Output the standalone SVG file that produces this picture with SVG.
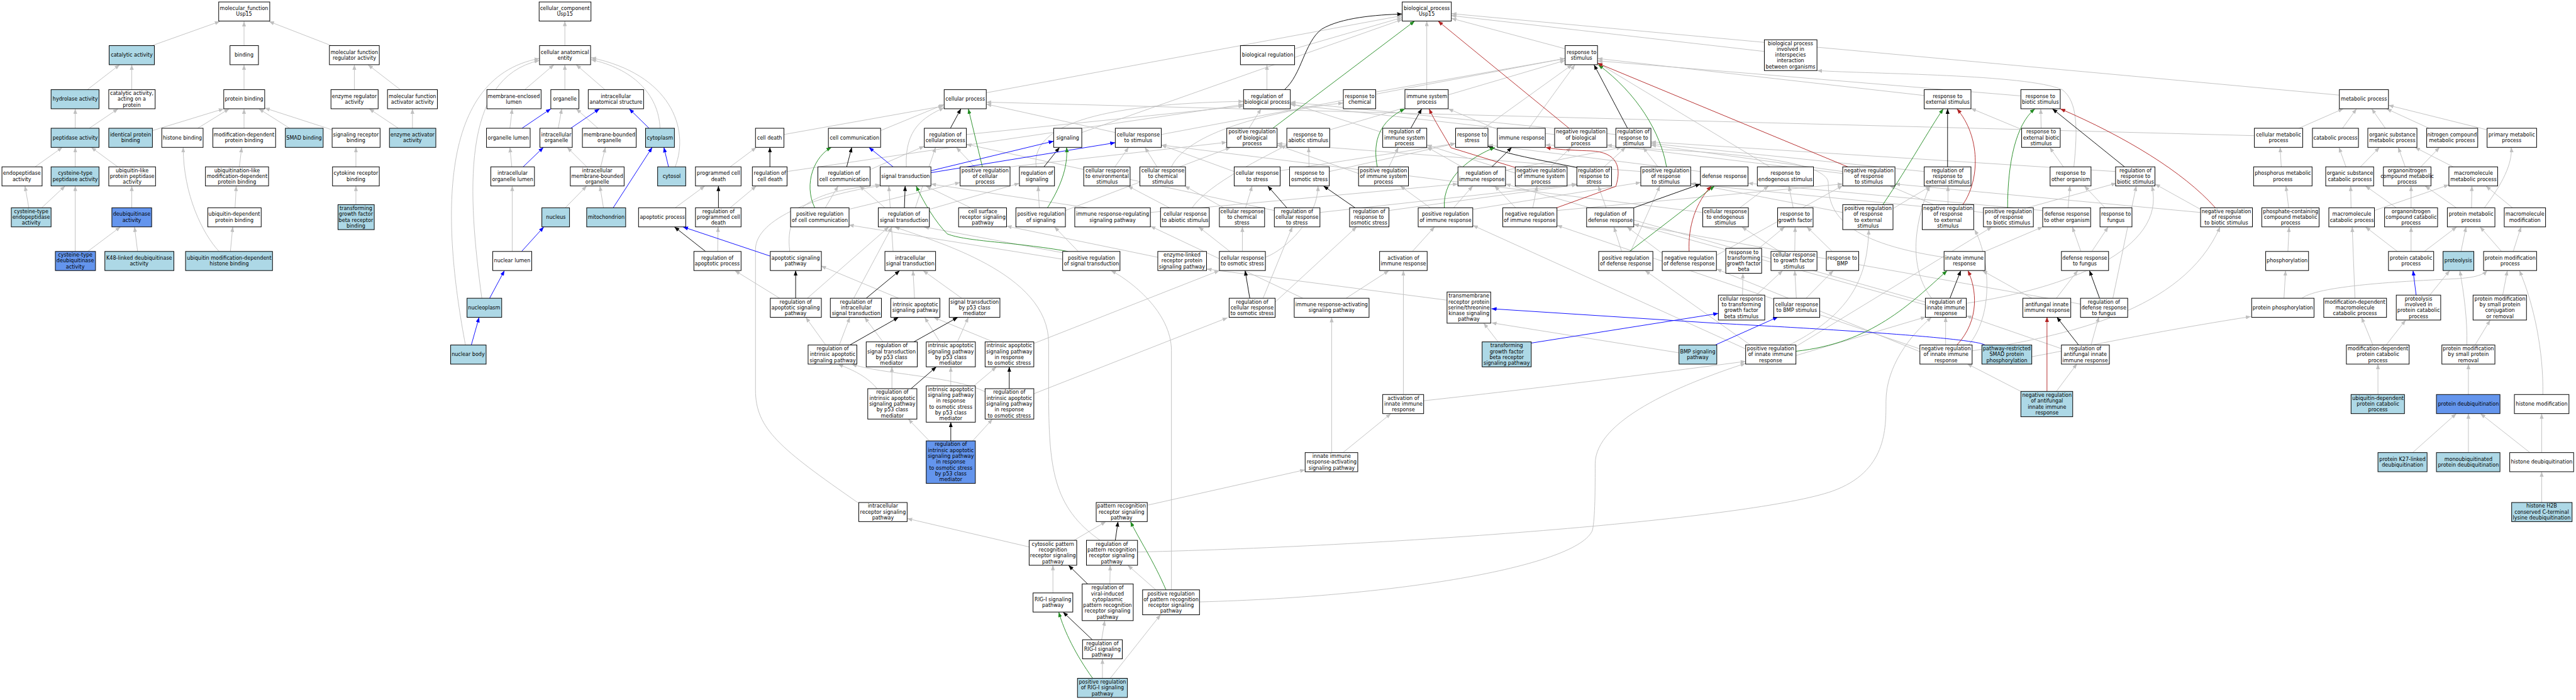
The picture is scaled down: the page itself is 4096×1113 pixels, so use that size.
<svg xmlns="http://www.w3.org/2000/svg" width="4096" height="1113" viewBox="0 0 4096 1113">
<defs>
<marker id="ag" markerUnits="userSpaceOnUse" markerWidth="14" markerHeight="10" refX="13" refY="5" orient="auto"><path d="M0,0L13,5L0,10z" fill="#c0c0c0"/></marker>
<marker id="ak" markerUnits="userSpaceOnUse" markerWidth="14" markerHeight="10" refX="13" refY="5" orient="auto"><path d="M0,0L13,5L0,10z" fill="#000"/></marker>
<marker id="ab" markerUnits="userSpaceOnUse" markerWidth="14" markerHeight="10" refX="13" refY="5" orient="auto"><path d="M0,0L13,5L0,10z" fill="#0000ff"/></marker>
<marker id="agr" markerUnits="userSpaceOnUse" markerWidth="14" markerHeight="10" refX="13" refY="5" orient="auto"><path d="M0,0L13,5L0,10z" fill="#228b22"/></marker>
<marker id="ar" markerUnits="userSpaceOnUse" markerWidth="14" markerHeight="10" refX="13" refY="5" orient="auto"><path d="M0,0L13,5L0,10z" fill="#b22222"/></marker>
</defs>
<style>
#nodes rect{fill:#fff;stroke:#000;stroke-width:1.6}
#nodes rect.lb{fill:#add8e6}
#nodes rect.cb{fill:#6495ed}
#nodes text{font-family:"DejaVu Sans","Liberation Sans",sans-serif;font-size:13px;text-anchor:middle;fill:#000}
#edges path{fill:none;stroke-width:1.5}
#edges .g{stroke:#c0c0c0;marker-end:url(#ag)}
#edges .k{stroke:#000;marker-end:url(#ak)}
#edges .b{stroke:#0000ff;marker-end:url(#ab)}
#edges .gr{stroke:#228b22;marker-end:url(#agr)}
#edges .r{stroke:#b22222;marker-end:url(#ar)}
</style>
<rect x="0" y="0" width="4096" height="1113" fill="#fff"/>
<g transform="scale(0.61985)">
<g id="edges">
<path class="g" d="M390 117L564 55"/>
<path class="g" d="M626 117L626 55"/>
<path class="g" d="M850 117L690 55"/>
<path class="g" d="M224 230L307 166"/>
<path class="g" d="M338 230L338 166"/>
<path class="g" d="M626 230L626 166"/>
<path class="g" d="M909 230L909 166"/>
<path class="g" d="M1027 230L944 166"/>
<path class="g" d="M193 329L193 279"/>
<path class="g" d="M229 329L303 279"/>
<path class="g" d="M391 335L574 279"/>
<path class="g" d="M507 329L588 279"/>
<path class="g" d="M626 329L626 279"/>
<path class="g" d="M743 329L664 279"/>
<path class="g" d="M852 333L679 277"/>
<path class="g" d="M1022 329L947 279"/>
<path class="g" d="M1058 329L1058 279"/>
<path class="g" d="M90 428L160 378"/>
<path class="g" d="M193 428L193 378"/>
<path class="g" d="M302 428L234 378"/>
<path class="g" d="M614 428L620 378"/>
<path class="g" d="M913 428L913 378"/>
<path class="g" d="M74 533L64 477"/>
<path class="g" d="M107 533L167 477"/>
<path class="g" d="M338 533L338 477"/>
<path class="g" d="M603 533L606 477"/>
<path class="g" d="M913 525L913 477"/>
<path class="g" d="M193 645L193 477"/>
<path class="g" d="M225 645L309 582"/>
<path class="g" d="M353 645L345 582"/>
<path class="g" d="M562 645C520 600 470 500 470 378"/>
<path class="g" d="M591 645L597 582"/>
<path class="g" d="M1449 117L1449 54"/>
<path class="g" d="M1346 230L1421 166"/>
<path class="g" d="M1449 230L1449 166"/>
<path class="g" d="M1552 230L1478 166"/>
<path class="g" d="M1693 329C1690 240 1620 175 1516 153"/>
<path class="g" d="M1732 428C1770 330 1720 190 1516 148"/>
<path class="g" d="M1236 765C1200 500 1180 200 1384 155"/>
<path class="g" d="M1194 885C1140 600 1110 200 1384 150"/>
<path class="g" d="M1308 329L1314 279"/>
<path class="g" d="M1432 329L1441 279"/>
<path class="g" d="M1534 329L1478 279"/>
<path class="g" d="M1313 428L1308 378"/>
<path class="g" d="M1505 428L1455 378"/>
<path class="g" d="M1541 428L1553 378"/>
<path class="g" d="M1450 533L1505 477"/>
<path class="g" d="M1548 533L1539 477"/>
<path class="g" d="M1314 645L1314 477"/>
<path class="b" d="M1339 329L1413 279"/>
<path class="b" d="M1464 329L1538 279"/>
<path class="b" d="M1665 329L1614 279"/>
<path class="b" d="M1342 428L1394 378"/>
<path class="b" d="M1715 428L1703 378"/>
<path class="b" d="M1573 533L1673 378"/>
<path class="b" d="M1338 645L1395 582"/>
<path class="b" d="M1256 765L1294 694"/>
<path class="b" d="M1209 885L1229 814"/>
<path class="g" d="M2011 345L2420 272"/>
<path class="g" d="M1873 428L1940 378"/>
<path class="g" d="M2019 440L3190 268"/>
<path class="g" d="M1732 533L1808 477"/>
<path class="g" d="M1873 533L1940 477"/>
<path class="g" d="M1841 645L1842 582"/>
<path class="g" d="M2026 645C2010 520 2100 490 2258 474"/>
<path class="g" d="M2000 765L1885 694"/>
<path class="g" d="M2071 765L2280 582"/>
<path class="g" d="M2118 885L2067 814"/>
<path class="g" d="M2153 885L2180 814"/>
<path class="g" d="M2259 335L2422 268"/>
<path class="g" d="M2232 435L2371 375"/>
<path class="g" d="M2117 533L2150 477"/>
<path class="g" d="M2177 537L2463 468"/>
<path class="g" d="M2190 765L2288 582"/>
<path class="g" d="M2530 238L3597 40"/>
<path class="g" d="M3321 125L3597 45"/>
<path class="g" d="M3250 230L3250 166"/>
<path class="g" d="M3204 329L3235 279"/>
<path class="g" d="M3988 345L3310 268"/>
<path class="g" d="M3660 230L3660 54"/>
<path class="g" d="M4015 125L3723 47"/>
<path class="g" d="M4526 132L3723 40"/>
<path class="g" d="M6001 244L3723 35"/>
<path class="g" d="M2479 345L3190 272"/>
<path class="g" d="M2500 428L2453 378"/>
<path class="g" d="M2591 428L3147 365"/>
<path class="g" d="M2775 340L3597 50"/>
<path class="g" d="M2325 428C2320 330 2370 300 2422 276"/>
<path class="g" d="M2861 340L2530 267"/>
<path class="g" d="M2979 345L4015 150"/>
<path class="g" d="M2658 428C2640 300 2900 265 3190 260"/>
<path class="g" d="M2384 537L2615 470"/>
<path class="g" d="M2270 533L2205 477"/>
<path class="g" d="M2348 533L2400 378"/>
<path class="g" d="M2490 533L2375 477"/>
<path class="g" d="M2666 533L2663 477"/>
<path class="g" d="M2733 540L3157 378"/>
<path class="g" d="M2790 533L2388 472"/>
<path class="g" d="M2951 545L3740 472"/>
<path class="g" d="M3000 533L2893 477"/>
<path class="g" d="M3058 533C3100 470 3250 400 3301 372"/>
<path class="g" d="M3195 533L3212 477"/>
<path class="g" d="M3139 533L3039 477"/>
<path class="g" d="M3386 545L4045 472"/>
<path class="g" d="M3269 540L2479 370"/>
<path class="g" d="M2968 428L2937 378"/>
<path class="g" d="M3005 428C3050 330 3300 280 3446 264"/>
<path class="g" d="M2860 428L2895 378"/>
<path class="g" d="M3166 440L2979 372"/>
<path class="g" d="M3284 438L3734 368"/>
<path class="g" d="M2291 645L2280 477"/>
<path class="g" d="M2735 650L2370 582"/>
<path class="g" d="M2766 645L2705 582"/>
<path class="g" d="M2726 665L2177 577"/>
<path class="g" d="M2970 660L2582 580"/>
<path class="g" d="M3155 645L3075 582"/>
<path class="g" d="M3187 645L3187 582"/>
<path class="g" d="M3246 660C3300 640 3380 560 3381 477"/>
<path class="g" d="M3240 765L3315 582"/>
<path class="g" d="M3271 775L3480 582"/>
<path class="g" d="M2346 765L2342 694"/>
<path class="g" d="M2305 765L2106 682"/>
<path class="g" d="M2467 765L2368 694"/>
<path class="g" d="M2265 877L2218 814"/>
<path class="g" d="M2411 877L2372 814"/>
<path class="g" d="M2456 877L2484 814"/>
<path class="g" d="M2548 877L2395 814"/>
<path class="g" d="M2652 881L3128 694"/>
<path class="g" d="M2288 997L2288 941"/>
<path class="g" d="M2250 997C2220 960 2175 945 2150 934"/>
<path class="g" d="M2439 990L2439 941"/>
<path class="g" d="M2498 990L2556 941"/>
<path class="g" d="M2527 1005C2450 965 2260 960 2185 934"/>
<path class="g" d="M2652 1010L3149 815"/>
<path class="g" d="M2384 1131L2330 1075"/>
<path class="g" d="M2495 1131L2546 1075"/>
<path class="g" d="M2203 1291C2000 1150 1938 1100 1938 1000L1938 640C1938 560 2100 500 2260 476"/>
<path class="g" d="M2943 1296L3348 1205"/>
<path class="g" d="M2755 1386L2837 1338"/>
<path class="g" d="M2640 1403L2327 1330"/>
<path class="g" d="M2918 1416C3600 1400 4500 1330 4700 1260C4840 1210 4838 1100 4838 1030C4838 940 4900 860 4955 814"/>
<path class="g" d="M2822 1386C2700 1300 2690 1200 2690 1000L2690 880C2690 700 2400 620 2295 582"/>
<path class="g" d="M2701 1521L2701 1450"/>
<path class="g" d="M2847 1498L2848 1450"/>
<path class="g" d="M2965 1513L2893 1450"/>
<path class="g" d="M3005 1513L3005 900C3005 800 2900 720 2850 694"/>
<path class="g" d="M3077 1544C3600 1530 4050 1450 4085 1360C4092 1330 4092 1250 4092 1190C4092 1080 4300 990 4478 932"/>
<path class="g" d="M2826 1641L2834 1592"/>
<path class="g" d="M2828 1740L2828 1690"/>
<path class="g" d="M2848 1740L2977 1577"/>
<path class="g" d="M3529 236L4015 150"/>
<path class="g" d="M3411 333L4015 155"/>
<path class="g" d="M3806 329L4033 166"/>
<path class="g" d="M3922 329L4040 166"/>
<path class="g" d="M3841 332L3715 279"/>
<path class="g" d="M3547 340L3310 265"/>
<path class="g" d="M4145 345L3310 262"/>
<path class="g" d="M3358 428L3357 378"/>
<path class="g" d="M3410 440L3734 368"/>
<path class="g" d="M3563 428L3587 378"/>
<path class="g" d="M3485 445L3276 372"/>
<path class="g" d="M3750 428L3660 377"/>
<path class="g" d="M3862 437L4160 378"/>
<path class="g" d="M3890 445L3660 372"/>
<path class="g" d="M3978 428L4030 378"/>
<path class="g" d="M4115 428L4170 378"/>
<path class="g" d="M4253 428L4215 378"/>
<path class="g" d="M4209 440L3276 368"/>
<path class="g" d="M4362 440L3817 372"/>
<path class="g" d="M3563 540L4045 474"/>
<path class="g" d="M3729 533L3778 477"/>
<path class="g" d="M3669 533L3592 477"/>
<path class="g" d="M3778 537L4209 468"/>
<path class="g" d="M3888 533L3834 477"/>
<path class="g" d="M3932 533L3943 477"/>
<path class="g" d="M3994 540L4727 472"/>
<path class="g" d="M4120 533L4100 477"/>
<path class="g" d="M3623 645L3680 582"/>
<path class="g" d="M4160 645L4140 582"/>
<path class="g" d="M4183 645L4258 477"/>
<path class="g" d="M4264 650L4174 582"/>
<path class="g" d="M4403 655L4727 476"/>
<path class="g" d="M3453 765L3563 694"/>
<path class="g" d="M3342 765L2951 580"/>
<path class="g" d="M3712 770L3095 690"/>
<path class="g" d="M3843 877L3806 829"/>
<path class="g" d="M4307 905L3826 828"/>
<path class="g" d="M5212 915C5350 890 5500 855 5774 812"/>
<path class="g" d="M3600 1012L3600 694"/>
<path class="g" d="M3652 1028C4000 990 4300 950 4478 927"/>
<path class="g" d="M3445 1161L3568 1061"/>
<path class="g" d="M3416 1161L3416 814"/>
<path class="g" d="M4936 245L4098 150"/>
<path class="g" d="M5184 246L4098 156"/>
<path class="g" d="M5236 329L5235 279"/>
<path class="g" d="M5186 332L5056 278"/>
<path class="g" d="M4540 428L4098 161"/>
<path class="g" d="M4727 440L4235 372"/>
<path class="g" d="M4727 445L4122 372"/>
<path class="g" d="M4936 440L4235 368"/>
<path class="g" d="M5293 428L5258 378"/>
<path class="g" d="M5320 428C5330 330 5330 260 5290 230C5200 190 4800 190 4661 181"/>
<path class="g" d="M5427 440L4235 364"/>
<path class="g" d="M4463 533L4537 477"/>
<path class="g" d="M4368 545L2979 372"/>
<path class="g" d="M4600 533L4589 477"/>
<path class="g" d="M4856 535L4953 477"/>
<path class="g" d="M4727 545L4337 470"/>
<path class="g" d="M4997 525L4997 477"/>
<path class="g" d="M4960 525L4848 477"/>
<path class="g" d="M5200 533L5429 470"/>
<path class="g" d="M5088 545L4337 472"/>
<path class="g" d="M5305 533L5310 477"/>
<path class="g" d="M5240 540L4484 470"/>
<path class="g" d="M5400 533L5347 477"/>
<path class="g" d="M5645 537L5528 472"/>
<path class="g" d="M5645 545L4861 472"/>
<path class="g" d="M4512 637L4578 582"/>
<path class="g" d="M4604 645L4605 582"/>
<path class="g" d="M4565 645L4468 582"/>
<path class="g" d="M4700 645L4635 582"/>
<path class="g" d="M4987 660C4720 620 4690 540 4690 470C4690 390 4200 380 3964 372"/>
<path class="g" d="M5092 645L5240 582"/>
<path class="g" d="M5338 645L5316 582"/>
<path class="g" d="M5366 645L5408 582"/>
<path class="g" d="M4470 757L4471 701"/>
<path class="g" d="M4505 757L4573 694"/>
<path class="g" d="M4633 765L4703 694"/>
<path class="g" d="M4608 765L4604 694"/>
<path class="g" d="M4955 765C4905 700 4900 600 4950 477"/>
<path class="g" d="M5044 778C5300 740 5560 640 5520 477"/>
<path class="g" d="M4939 775L3862 472"/>
<path class="g" d="M4939 782L4191 575"/>
<path class="g" d="M5212 765L5085 694"/>
<path class="g" d="M5275 765L5330 694"/>
<path class="g" d="M5420 765L5480 477"/>
<path class="g" d="M5337 780L4191 576"/>
<path class="g" d="M4607 912L4940 813"/>
<path class="g" d="M4590 885C4760 800 4790 700 4794 589"/>
<path class="g" d="M4478 895L3778 578"/>
<path class="g" d="M4490 885L4220 694"/>
<path class="g" d="M4605 890L5110 582"/>
<path class="g" d="M4991 885L4991 813"/>
<path class="g" d="M5050 885C5120 800 5100 650 5065 589"/>
<path class="g" d="M4925 895L3994 578"/>
<path class="g" d="M4925 902L4403 690"/>
<path class="g" d="M5059 900C5300 860 5600 800 5695 582"/>
<path class="g" d="M5290 895L5044 810"/>
<path class="g" d="M5364 885L5384 813"/>
<path class="g" d="M5275 1004L5328 933"/>
<path class="g" d="M5184 1004L5046 933"/>
<path class="g" d="M5897 329L6011 279"/>
<path class="g" d="M5783 348L2530 262"/>
<path class="g" d="M6009 329L6045 279"/>
<path class="g" d="M6119 329L6084 279"/>
<path class="g" d="M6231 329L6122 279"/>
<path class="g" d="M6380 333L6127 270"/>
<path class="g" d="M5852 428L5849 378"/>
<path class="g" d="M6018 428L6000 378"/>
<path class="g" d="M6055 428L6104 378"/>
<path class="g" d="M6170 428L6152 378"/>
<path class="g" d="M6210 428L6258 378"/>
<path class="g" d="M6293 428L6195 378"/>
<path class="g" d="M5871 533L5864 477"/>
<path class="g" d="M6031 533L6030 477"/>
<path class="g" d="M6091 540L6282 474"/>
<path class="g" d="M6147 533L6068 477"/>
<path class="g" d="M6185 533L6185 477"/>
<path class="g" d="M6301 533L6221 477"/>
<path class="g" d="M6340 533L6341 477"/>
<path class="g" d="M6373 533C6420 470 6445 420 6442 378"/>
<path class="g" d="M6445 533L6377 477"/>
<path class="g" d="M5869 645L5872 582"/>
<path class="g" d="M6150 645L6068 582"/>
<path class="g" d="M6185 645L6185 582"/>
<path class="g" d="M6219 645L6302 582"/>
<path class="g" d="M6313 645L6326 582"/>
<path class="g" d="M6417 645L6362 582"/>
<path class="g" d="M6447 645L6467 582"/>
<path class="g" d="M5859 765L5863 694"/>
<path class="g" d="M5905 765C5950 730 6200 720 6300 715C6350 712 6370 705 6380 694"/>
<path class="g" d="M6041 765L6034 582"/>
<path class="g" d="M6233 757L6284 694"/>
<path class="g" d="M6420 757L6432 694"/>
<path class="g" d="M6087 885L6058 814"/>
<path class="g" d="M6121 885L6171 821"/>
<path class="g" d="M6349 885L6388 821"/>
<path class="g" d="M6328 885C6330 820 6320 750 6310 694"/>
<path class="g" d="M6523 1012C6525 900 6500 780 6463 694"/>
<path class="g" d="M6100 1012L6100 934"/>
<path class="g" d="M6332 1012L6332 934"/>
<path class="g" d="M6189 1161L6301 1061"/>
<path class="g" d="M6332 1161L6332 1061"/>
<path class="g" d="M6490 1161L6363 1061"/>
<path class="g" d="M6520 1161L6520 1061"/>
<path class="g" d="M6520 1289L6520 1210"/>
<path class="k" d="M1975 428L1975 378"/>
<path class="k" d="M1843 533L1843 477"/>
<path class="k" d="M1810 645L1730 582"/>
<path class="k" d="M2041 765L2041 694"/>
<path class="k" d="M2180 885L2305 814"/>
<path class="k" d="M2172 428L2185 378"/>
<path class="k" d="M2222 765L2308 694"/>
<path class="k" d="M3295 230C3340 190 3345 110 3390 75C3440 45 3530 38 3597 36"/>
<path class="k" d="M2438 329L2465 279"/>
<path class="k" d="M2678 428L2718 378"/>
<path class="k" d="M2320 533L2322 477"/>
<path class="k" d="M3301 533L3252 477"/>
<path class="k" d="M3206 765L3194 694"/>
<path class="k" d="M2344 877L2457 814"/>
<path class="k" d="M2337 997L2402 941"/>
<path class="k" d="M2589 997L2589 941"/>
<path class="k" d="M2439 1131L2439 1083"/>
<path class="k" d="M2861 1386L2868 1338"/>
<path class="k" d="M2790 1498L2741 1450"/>
<path class="k" d="M2802 1641L2727 1570"/>
<path class="k" d="M3619 329L3647 279"/>
<path class="k" d="M4175 329L4089 166"/>
<path class="k" d="M3827 428L3878 378"/>
<path class="k" d="M4045 430C3950 410 3860 395 3817 375"/>
<path class="k" d="M3476 533L3395 477"/>
<path class="k" d="M4191 533L4362 472"/>
<path class="k" d="M4996 428L4996 279"/>
<path class="k" d="M5450 428L5265 279"/>
<path class="k" d="M5002 765L5030 694"/>
<path class="k" d="M5386 765L5360 694"/>
<path class="k" d="M5332 885L5276 813"/>
<path class="b" d="M1976 657L1752 582"/>
<path class="b" d="M2388 438L2703 362"/>
<path class="b" d="M2388 443L2861 366"/>
<path class="b" d="M2291 428L2229 378"/>
<path class="b" d="M3928 880L4408 804"/>
<path class="b" d="M4400 885L4561 813"/>
<path class="b" d="M5092 885C5070 870 4800 850 4400 829L3826 792"/>
<path class="b" d="M6198 757L6190 694"/>
<path class="gr" d="M2090 533C2060 470 2090 400 2133 378"/>
<path class="gr" d="M3265 329L3629 54"/>
<path class="gr" d="M2520 428L2484 279"/>
<path class="gr" d="M2687 533C2720 480 2740 430 2736 378"/>
<path class="gr" d="M2740 645C2600 620 2480 620 2430 600C2400 570 2370 520 2350 477"/>
<path class="gr" d="M2991 1513C2960 1440 2920 1380 2900 1338"/>
<path class="gr" d="M2803 1740C2760 1680 2730 1620 2716 1570"/>
<path class="gr" d="M3533 428C3520 360 3540 310 3604 279"/>
<path class="gr" d="M4275 428C4260 340 4200 240 4100 166"/>
<path class="gr" d="M3705 533C3700 450 3780 400 3835 378"/>
<path class="gr" d="M4180 645L4398 477"/>
<path class="gr" d="M4830 525C4900 420 4950 330 4985 279"/>
<path class="gr" d="M5150 533C5150 420 5170 320 5220 279"/>
<path class="gr" d="M4607 901C4800 880 4900 780 4995 694"/>
<path class="r" d="M4025 329L3689 54"/>
<path class="r" d="M3888 430L3722 379C3700 340 3680 310 3666 279"/>
<path class="r" d="M3993 533L4145 478C4160 430 4150 390 4080 387C4020 385 3990 383 3965 378"/>
<path class="r" d="M4333 645C4330 580 4350 520 4390 477"/>
<path class="r" d="M4740 428L4098 162"/>
<path class="r" d="M5035 525C5080 460 5080 350 5020 279"/>
<path class="r" d="M5683 533C5600 440 5450 350 5285 279"/>
<path class="r" d="M5020 885C5080 820 5070 740 5048 694"/>
<path class="r" d="M5251 1004L5251 813"/>
</g>
<g id="nodes">
<g id="mf_root"><rect x="561" y="5" width="131" height="49"/><text><tspan x="626" y="26">molecular_function</tspan><tspan x="626" y="41">Usp15</tspan></text></g>
<g id="catalytic_activity"><rect class="lb" x="280" y="117" width="116" height="49"/><text x="338" y="145.5">catalytic activity</text></g>
<g id="binding"><rect x="590" y="117" width="73" height="49"/><text x="626" y="145.5">binding</text></g>
<g id="mf_regulator"><rect x="845" y="117" width="128" height="49"/><text><tspan x="909" y="138">molecular function</tspan><tspan x="909" y="153">regulator activity</tspan></text></g>
<g id="hydrolase"><rect class="lb" x="131" y="230" width="123" height="49"/><text x="193" y="258.5">hydrolase activity</text></g>
<g id="cat_protein"><rect x="279" y="230" width="119" height="49"/><text><tspan x="338" y="243.5">catalytic activity,</tspan><tspan x="338" y="258.5">acting on a</tspan><tspan x="338" y="273.5">protein</tspan></text></g>
<g id="protein_binding"><rect x="574" y="230" width="105" height="49"/><text x="626" y="258.5">protein binding</text></g>
<g id="enzyme_regulator"><rect x="849" y="230" width="121" height="49"/><text><tspan x="909" y="251">enzyme regulator</tspan><tspan x="909" y="266">activity</tspan></text></g>
<g id="mf_activator"><rect x="994" y="230" width="128" height="49"/><text><tspan x="1058" y="251">molecular function</tspan><tspan x="1058" y="266">activator activity</tspan></text></g>
<g id="peptidase"><rect class="lb" x="131" y="329" width="123" height="49"/><text x="193" y="357.5">peptidase activity</text></g>
<g id="identical_binding"><rect class="lb" x="279" y="329" width="112" height="49"/><text><tspan x="335" y="350">identical protein</tspan><tspan x="335" y="365">binding</tspan></text></g>
<g id="histone_binding"><rect x="415" y="329" width="106" height="49"/><text x="468" y="357.5">histone binding</text></g>
<g id="moddep_binding"><rect x="546" y="329" width="161" height="49"/><text><tspan x="626" y="350">modification-dependent</tspan><tspan x="626" y="365">protein binding</tspan></text></g>
<g id="smad_binding"><rect class="lb" x="732" y="329" width="97" height="49"/><text x="780" y="357.5">SMAD binding</text></g>
<g id="sig_rec_binding"><rect x="852" y="329" width="123" height="49"/><text><tspan x="913" y="350">signaling receptor</tspan><tspan x="913" y="365">binding</tspan></text></g>
<g id="enzyme_activator"><rect class="lb" x="999" y="329" width="119" height="49"/><text><tspan x="1058" y="350">enzyme activator</tspan><tspan x="1058" y="365">activity</tspan></text></g>
<g id="endopeptidase"><rect x="5" y="428" width="103" height="49"/><text><tspan x="56" y="449">endopeptidase</tspan><tspan x="56" y="464">activity</tspan></text></g>
<g id="cys_peptidase"><rect class="lb" x="131" y="428" width="123" height="49"/><text><tspan x="193" y="449">cysteine-type</tspan><tspan x="193" y="464">peptidase activity</tspan></text></g>
<g id="ubl_peptidase"><rect x="279" y="428" width="120" height="49"/><text><tspan x="339" y="441.5">ubiquitin-like</tspan><tspan x="339" y="456.5">protein peptidase</tspan><tspan x="339" y="471.5">activity</tspan></text></g>
<g id="ubl_moddep"><rect x="527" y="428" width="162" height="49"/><text><tspan x="608" y="441.5">ubiquitination-like</tspan><tspan x="608" y="456.5">modification-dependent</tspan><tspan x="608" y="471.5">protein binding</tspan></text></g>
<g id="cytokine_rec"><rect x="853" y="428" width="120" height="49"/><text><tspan x="913" y="449">cytokine receptor</tspan><tspan x="913" y="464">binding</tspan></text></g>
<g id="cys_endopep"><rect class="lb" x="29" y="533" width="102" height="49"/><text><tspan x="80" y="546.5">cysteine-type</tspan><tspan x="80" y="561.5">endopeptidase</tspan><tspan x="80" y="576.5">activity</tspan></text></g>
<g id="deubiquitinase"><rect class="cb" x="287" y="533" width="102" height="49"/><text><tspan x="338" y="554">deubiquitinase</tspan><tspan x="338" y="569">activity</tspan></text></g>
<g id="ub_dep_binding"><rect x="533" y="533" width="137" height="49"/><text><tspan x="601" y="554">ubiquitin-dependent</tspan><tspan x="601" y="569">protein binding</tspan></text></g>
<g id="tgfb_rec_binding"><rect class="lb" x="867" y="525" width="93" height="64"/><text><tspan x="913" y="539">transforming</tspan><tspan x="913" y="554">growth factor</tspan><tspan x="913" y="569">beta receptor</tspan><tspan x="913" y="584">binding</tspan></text></g>
<g id="cys_deub"><rect class="cb" x="142" y="645" width="103" height="49"/><text><tspan x="193" y="658.5">cysteine-type</tspan><tspan x="193" y="673.5">deubiquitinase</tspan><tspan x="193" y="688.5">activity</tspan></text></g>
<g id="k48"><rect class="lb" x="269" y="645" width="177" height="49"/><text><tspan x="357" y="666">K48-linked deubiquitinase</tspan><tspan x="357" y="681">activity</tspan></text></g>
<g id="ub_histone_binding"><rect class="lb" x="476" y="645" width="223" height="49"/><text><tspan x="588" y="666">ubiquitin modification-dependent</tspan><tspan x="588" y="681">histone binding</tspan></text></g>
<g id="cc_root"><rect x="1383" y="5" width="133" height="49"/><text><tspan x="1449" y="26">cellular_component</tspan><tspan x="1449" y="41">Usp15</tspan></text></g>
<g id="cae"><rect x="1384" y="117" width="131" height="49"/><text><tspan x="1449" y="138">cellular anatomical</tspan><tspan x="1449" y="153">entity</tspan></text></g>
<g id="mel"><rect x="1249" y="230" width="139" height="49"/><text><tspan x="1318" y="251">membrane-enclosed</tspan><tspan x="1318" y="266">lumen</tspan></text></g>
<g id="organelle"><rect x="1413" y="230" width="72" height="49"/><text x="1449" y="258.5">organelle</text></g>
<g id="ias"><rect x="1509" y="230" width="142" height="49"/><text><tspan x="1580" y="251">intracellular</tspan><tspan x="1580" y="266">anatomical structure</tspan></text></g>
<g id="organelle_lumen"><rect x="1248" y="329" width="112" height="49"/><text x="1304" y="357.5">organelle lumen</text></g>
<g id="intra_organelle"><rect x="1385" y="329" width="83" height="49"/><text><tspan x="1427" y="350">intracellular</tspan><tspan x="1427" y="365">organelle</tspan></text></g>
<g id="mbo"><rect x="1494" y="329" width="138" height="49"/><text><tspan x="1563" y="350">membrane-bounded</tspan><tspan x="1563" y="365">organelle</tspan></text></g>
<g id="cytoplasm"><rect class="lb" x="1656" y="329" width="74" height="49"/><text x="1693" y="357.5">cytoplasm</text></g>
<g id="iol"><rect x="1259" y="428" width="112" height="49"/><text><tspan x="1315" y="449">intracellular</tspan><tspan x="1315" y="464">organelle lumen</tspan></text></g>
<g id="imbo"><rect x="1463" y="428" width="138" height="49"/><text><tspan x="1532" y="441.5">intracellular</tspan><tspan x="1532" y="456.5">membrane-bounded</tspan><tspan x="1532" y="471.5">organelle</tspan></text></g>
<g id="cytosol"><rect class="lb" x="1687" y="428" width="72" height="49"/><text x="1723" y="456.5">cytosol</text></g>
<g id="nucleus"><rect class="lb" x="1390" y="533" width="71" height="49"/><text x="1426" y="561.5">nucleus</text></g>
<g id="mitochondrion"><rect class="lb" x="1505" y="533" width="100" height="49"/><text x="1555" y="561.5">mitochondrion</text></g>
<g id="nuclear_lumen"><rect x="1264" y="645" width="100" height="49"/><text x="1314" y="673.5">nuclear lumen</text></g>
<g id="nucleoplasm"><rect class="lb" x="1198" y="765" width="89" height="49"/><text x="1242" y="793.5">nucleoplasm</text></g>
<g id="nuclear_body"><rect class="lb" x="1156" y="885" width="91" height="49"/><text x="1201" y="913.5">nuclear body</text></g>
<g id="bp_root"><rect x="3597" y="5" width="126" height="49"/><text><tspan x="3660" y="26">biological_process</tspan><tspan x="3660" y="41">Usp15</tspan></text></g>
<g id="cell_death"><rect x="1938" y="329" width="73" height="49"/><text x="1974" y="357.5">cell death</text></g>
<g id="cell_communication"><rect x="2125" y="329" width="134" height="49"/><text x="2192" y="357.5">cell communication</text></g>
<g id="pcd"><rect x="1784" y="428" width="117" height="49"/><text><tspan x="1843" y="449">programmed cell</tspan><tspan x="1843" y="464">death</tspan></text></g>
<g id="reg_cell_death"><rect x="1930" y="428" width="89" height="49"/><text><tspan x="1975" y="449">regulation of</tspan><tspan x="1975" y="464">cell death</tspan></text></g>
<g id="reg_cell_comm"><rect x="2098" y="428" width="134" height="49"/><text><tspan x="2165" y="449">regulation of</tspan><tspan x="2165" y="464">cell communication</tspan></text></g>
<g id="apoptotic_process"><rect x="1638" y="533" width="121" height="49"/><text x="1699" y="561.5">apoptotic process</text></g>
<g id="reg_pcd"><rect x="1784" y="533" width="117" height="49"/><text><tspan x="1843" y="546.5">regulation of</tspan><tspan x="1843" y="561.5">programmed cell</tspan><tspan x="1843" y="576.5">death</tspan></text></g>
<g id="pos_reg_cell_comm"><rect x="2028" y="533" width="150" height="49"/><text><tspan x="2103" y="554">positive regulation</tspan><tspan x="2103" y="569">of cell communication</tspan></text></g>
<g id="reg_apoptotic"><rect x="1780" y="645" width="121" height="49"/><text><tspan x="1840" y="666">regulation of</tspan><tspan x="1840" y="681">apoptotic process</tspan></text></g>
<g id="apoptotic_sp"><rect x="1976" y="645" width="131" height="49"/><text><tspan x="2041" y="666">apoptotic signaling</tspan><tspan x="2041" y="681">pathway</tspan></text></g>
<g id="reg_apoptotic_sp"><rect x="1976" y="765" width="131" height="49"/><text><tspan x="2041" y="778.5">regulation of</tspan><tspan x="2041" y="793.5">apoptotic signaling</tspan><tspan x="2041" y="808.5">pathway</tspan></text></g>
<g id="reg_intra_st"><rect x="2130" y="765" width="131" height="49"/><text><tspan x="2196" y="778.5">regulation of</tspan><tspan x="2196" y="793.5">intracellular</tspan><tspan x="2196" y="808.5">signal transduction</tspan></text></g>
<g id="reg_intrinsic_asp"><rect x="2073" y="885" width="125" height="49"/><text><tspan x="2136" y="898.5">regulation of</tspan><tspan x="2136" y="913.5">intrinsic apoptotic</tspan><tspan x="2136" y="928.5">signaling pathway</tspan></text></g>
<g id="cellular_process"><rect x="2422" y="230" width="108" height="49"/><text x="2476" y="258.5">cellular process</text></g>
<g id="bio_regulation"><rect x="3182" y="117" width="139" height="49"/><text x="3252" y="145.5">biological regulation</text></g>
<g id="reg_bp"><rect x="3190" y="230" width="120" height="49"/><text><tspan x="3250" y="251">regulation of</tspan><tspan x="3250" y="266">biological process</tspan></text></g>
<g id="reg_cp"><rect x="2371" y="329" width="108" height="49"/><text><tspan x="2425" y="350">regulation of</tspan><tspan x="2425" y="365">cellular process</tspan></text></g>
<g id="signaling"><rect x="2703" y="329" width="72" height="49"/><text x="2739" y="357.5">signaling</text></g>
<g id="cr_stimulus"><rect x="2861" y="329" width="118" height="49"/><text><tspan x="2920" y="350">cellular response</tspan><tspan x="2920" y="365">to stimulus</tspan></text></g>
<g id="pos_reg_bp"><rect x="3147" y="329" width="129" height="49"/><text><tspan x="3212" y="342.5">positive regulation</tspan><tspan x="3212" y="357.5">of biological</tspan><tspan x="3212" y="372.5">process</tspan></text></g>
<g id="signal_transduction"><rect x="2258" y="428" width="130" height="49"/><text x="2323" y="456.5">signal transduction</text></g>
<g id="pos_reg_cp"><rect x="2463" y="428" width="128" height="49"/><text><tspan x="2527" y="441.5">positive regulation</tspan><tspan x="2527" y="456.5">of cellular</tspan><tspan x="2527" y="471.5">process</tspan></text></g>
<g id="reg_signaling"><rect x="2615" y="428" width="90" height="49"/><text><tspan x="2660" y="449">regulation of</tspan><tspan x="2660" y="464">signaling</tspan></text></g>
<g id="cr_env"><rect x="2780" y="428" width="119" height="49"/><text><tspan x="2840" y="441.5">cellular response</tspan><tspan x="2840" y="456.5">to environmental</tspan><tspan x="2840" y="471.5">stimulus</tspan></text></g>
<g id="cr_chem_stim"><rect x="2924" y="428" width="117" height="49"/><text><tspan x="2983" y="441.5">cellular response</tspan><tspan x="2983" y="456.5">to chemical</tspan><tspan x="2983" y="471.5">stimulus</tspan></text></g>
<g id="cr_stress"><rect x="3166" y="428" width="118" height="49"/><text><tspan x="3225" y="449">cellular response</tspan><tspan x="3225" y="464">to stress</tspan></text></g>
<g id="reg_st"><rect x="2253" y="533" width="131" height="49"/><text><tspan x="2319" y="554">regulation of</tspan><tspan x="2319" y="569">signal transduction</tspan></text></g>
<g id="cell_surface_rsp"><rect x="2459" y="533" width="123" height="49"/><text><tspan x="2521" y="546.5">cell surface</tspan><tspan x="2521" y="561.5">receptor signaling</tspan><tspan x="2521" y="576.5">pathway</tspan></text></g>
<g id="pos_reg_signaling"><rect x="2606" y="533" width="127" height="49"/><text><tspan x="2670" y="554">positive regulation</tspan><tspan x="2670" y="569">of signaling</tspan></text></g>
<g id="ir_regulating_sp"><rect x="2757" y="533" width="194" height="49"/><text><tspan x="2854" y="554">immune response-regulating</tspan><tspan x="2854" y="569">signaling pathway</tspan></text></g>
<g id="cr_abiotic"><rect x="2977" y="533" width="125" height="49"/><text><tspan x="3040" y="554">cellular response</tspan><tspan x="3040" y="569">to abiotic stimulus</tspan></text></g>
<g id="cr_chem_stress"><rect x="3128" y="533" width="116" height="49"/><text><tspan x="3186" y="546.5">cellular response</tspan><tspan x="3186" y="561.5">to chemical</tspan><tspan x="3186" y="576.5">stress</tspan></text></g>
<g id="reg_cr_stress"><rect x="3269" y="533" width="117" height="49"/><text><tspan x="3327" y="546.5">regulation of</tspan><tspan x="3327" y="561.5">cellular response</tspan><tspan x="3327" y="576.5">to stress</tspan></text></g>
<g id="intra_st"><rect x="2270" y="645" width="130" height="49"/><text><tspan x="2335" y="666">intracellular</tspan><tspan x="2335" y="681">signal transduction</tspan></text></g>
<g id="pos_reg_st"><rect x="2726" y="645" width="147" height="49"/><text><tspan x="2800" y="666">positive regulation</tspan><tspan x="2800" y="681">of signal transduction</tspan></text></g>
<g id="enzyme_linked_rpsp"><rect x="2970" y="645" width="125" height="49"/><text><tspan x="3032" y="658.5">enzyme-linked</tspan><tspan x="3032" y="673.5">receptor protein</tspan><tspan x="3032" y="688.5">signaling pathway</tspan></text></g>
<g id="cr_osmotic"><rect x="3128" y="645" width="118" height="49"/><text><tspan x="3187" y="666">cellular response</tspan><tspan x="3187" y="681">to osmotic stress</tspan></text></g>
<g id="intrinsic_asp"><rect x="2285" y="765" width="126" height="49"/><text><tspan x="2348" y="786">intrinsic apoptotic</tspan><tspan x="2348" y="801">signaling pathway</tspan></text></g>
<g id="st_p53"><rect x="2435" y="765" width="130" height="49"/><text><tspan x="2500" y="778.5">signal transduction</tspan><tspan x="2500" y="793.5">by p53 class</tspan><tspan x="2500" y="808.5">mediator</tspan></text></g>
<g id="reg_cr_osmotic"><rect x="3153" y="765" width="118" height="49"/><text><tspan x="3212" y="778.5">regulation of</tspan><tspan x="3212" y="793.5">cellular response</tspan><tspan x="3212" y="808.5">to osmotic stress</tspan></text></g>
<g id="reg_st_p53"><rect x="2222" y="877" width="131" height="64"/><text><tspan x="2287" y="891">regulation of</tspan><tspan x="2287" y="906">signal transduction</tspan><tspan x="2287" y="921">by p53 class</tspan><tspan x="2287" y="936">mediator</tspan></text></g>
<g id="iasp_p53"><rect x="2376" y="877" width="126" height="64"/><text><tspan x="2439" y="891">intrinsic apoptotic</tspan><tspan x="2439" y="906">signaling pathway</tspan><tspan x="2439" y="921">by p53 class</tspan><tspan x="2439" y="936">mediator</tspan></text></g>
<g id="iasp_osmotic"><rect x="2527" y="877" width="125" height="64"/><text><tspan x="2589" y="891">intrinsic apoptotic</tspan><tspan x="2589" y="906">signaling pathway</tspan><tspan x="2589" y="921">in response</tspan><tspan x="2589" y="936">to osmotic stress</tspan></text></g>
<g id="reg_iasp_p53"><rect x="2226" y="997" width="126" height="78"/><text><tspan x="2289" y="1010.5">regulation of</tspan><tspan x="2289" y="1025.5">intrinsic apoptotic</tspan><tspan x="2289" y="1040.5">signaling pathway</tspan><tspan x="2289" y="1055.5">by p53 class</tspan><tspan x="2289" y="1070.5">mediator</tspan></text></g>
<g id="iasp_osmotic_p53"><rect x="2376" y="990" width="126" height="93"/><text><tspan x="2439" y="1003">intrinsic apoptotic</tspan><tspan x="2439" y="1018">signaling pathway</tspan><tspan x="2439" y="1033">in response</tspan><tspan x="2439" y="1048">to osmotic stress</tspan><tspan x="2439" y="1063">by p53 class</tspan><tspan x="2439" y="1078">mediator</tspan></text></g>
<g id="reg_iasp_osmotic"><rect x="2527" y="997" width="125" height="78"/><text><tspan x="2589" y="1010.5">regulation of</tspan><tspan x="2589" y="1025.5">intrinsic apoptotic</tspan><tspan x="2589" y="1040.5">signaling pathway</tspan><tspan x="2589" y="1055.5">in response</tspan><tspan x="2589" y="1070.5">to osmotic stress</tspan></text></g>
<g id="reg_iasp_osmotic_p53"><rect class="cb" x="2376" y="1131" width="126" height="109"/><text><tspan x="2439" y="1144.5">regulation of</tspan><tspan x="2439" y="1159.5">intrinsic apoptotic</tspan><tspan x="2439" y="1174.5">signaling pathway</tspan><tspan x="2439" y="1189.5">in response</tspan><tspan x="2439" y="1204.5">to osmotic stress</tspan><tspan x="2439" y="1219.5">by p53 class</tspan><tspan x="2439" y="1234.5">mediator</tspan></text></g>
<g id="intra_rsp"><rect x="2203" y="1289" width="124" height="49"/><text><tspan x="2265" y="1302.5">intracellular</tspan><tspan x="2265" y="1317.5">receptor signaling</tspan><tspan x="2265" y="1332.5">pathway</tspan></text></g>
<g id="prr_sp"><rect x="2812" y="1289" width="131" height="49"/><text><tspan x="2877" y="1302.5">pattern recognition</tspan><tspan x="2877" y="1317.5">receptor signaling</tspan><tspan x="2877" y="1332.5">pathway</tspan></text></g>
<g id="cyto_prr_sp"><rect x="2640" y="1386" width="122" height="64"/><text><tspan x="2701" y="1400">cytosolic pattern</tspan><tspan x="2701" y="1415">recognition</tspan><tspan x="2701" y="1430">receptor signaling</tspan><tspan x="2701" y="1445">pathway</tspan></text></g>
<g id="reg_prr_sp"><rect x="2787" y="1386" width="131" height="64"/><text><tspan x="2852" y="1400">regulation of</tspan><tspan x="2852" y="1415">pattern recognition</tspan><tspan x="2852" y="1430">receptor signaling</tspan><tspan x="2852" y="1445">pathway</tspan></text></g>
<g id="rig_sp"><rect x="2650" y="1521" width="102" height="49"/><text><tspan x="2701" y="1542">RIG-I signaling</tspan><tspan x="2701" y="1557">pathway</tspan></text></g>
<g id="reg_viral_prr"><rect x="2776" y="1498" width="131" height="94"/><text><tspan x="2841" y="1512">regulation of</tspan><tspan x="2841" y="1527">viral-induced</tspan><tspan x="2841" y="1542">cytoplasmic</tspan><tspan x="2841" y="1557">pattern recognition</tspan><tspan x="2841" y="1572">receptor signaling</tspan><tspan x="2841" y="1587">pathway</tspan></text></g>
<g id="pos_reg_prr_sp"><rect x="2931" y="1513" width="146" height="64"/><text><tspan x="3004" y="1527">positive regulation</tspan><tspan x="3004" y="1542">of pattern recognition</tspan><tspan x="3004" y="1557">receptor signaling</tspan><tspan x="3004" y="1572">pathway</tspan></text></g>
<g id="reg_rig_sp"><rect x="2777" y="1641" width="102" height="49"/><text><tspan x="2828" y="1654.5">regulation of</tspan><tspan x="2828" y="1669.5">RIG-I signaling</tspan><tspan x="2828" y="1684.5">pathway</tspan></text></g>
<g id="pos_reg_rig_sp"><rect class="lb" x="2764" y="1740" width="128" height="49"/><text><tspan x="2828" y="1753.5">positive regulation</tspan><tspan x="2828" y="1768.5">of RIG-I signaling</tspan><tspan x="2828" y="1783.5">pathway</tspan></text></g>
<g id="resp_stimulus"><rect x="4015" y="117" width="83" height="49"/><text><tspan x="4057" y="138">response to</tspan><tspan x="4057" y="153">stimulus</tspan></text></g>
<g id="resp_chemical"><rect x="3446" y="230" width="83" height="49"/><text><tspan x="3488" y="251">response to</tspan><tspan x="3488" y="266">chemical</tspan></text></g>
<g id="immune_system_process"><rect x="3604" y="230" width="111" height="49"/><text><tspan x="3660" y="251">immune system</tspan><tspan x="3660" y="266">process</tspan></text></g>
<g id="resp_abiotic"><rect x="3301" y="329" width="110" height="49"/><text><tspan x="3356" y="350">response to</tspan><tspan x="3356" y="365">abiotic stimulus</tspan></text></g>
<g id="reg_isp"><rect x="3547" y="329" width="113" height="49"/><text><tspan x="3603" y="342.5">regulation of</tspan><tspan x="3603" y="357.5">immune system</tspan><tspan x="3603" y="372.5">process</tspan></text></g>
<g id="resp_stress"><rect x="3734" y="329" width="83" height="49"/><text><tspan x="3776" y="350">response to</tspan><tspan x="3776" y="365">stress</tspan></text></g>
<g id="immune_response"><rect x="3841" y="329" width="123" height="49"/><text x="3903" y="357.5">immune response</text></g>
<g id="neg_reg_bp"><rect x="3988" y="329" width="134" height="49"/><text><tspan x="4055" y="342.5">negative regulation</tspan><tspan x="4055" y="357.5">of biological</tspan><tspan x="4055" y="372.5">process</tspan></text></g>
<g id="reg_resp_stimulus"><rect x="4145" y="329" width="90" height="49"/><text><tspan x="4190" y="342.5">regulation of</tspan><tspan x="4190" y="357.5">response to</tspan><tspan x="4190" y="372.5">stimulus</tspan></text></g>
<g id="resp_osmotic"><rect x="3308" y="428" width="102" height="49"/><text><tspan x="3359" y="449">response to</tspan><tspan x="3359" y="464">osmotic stress</tspan></text></g>
<g id="pos_reg_isp"><rect x="3485" y="428" width="128" height="49"/><text><tspan x="3549" y="441.5">positive regulation</tspan><tspan x="3549" y="456.5">of immune system</tspan><tspan x="3549" y="471.5">process</tspan></text></g>
<g id="reg_ir"><rect x="3740" y="428" width="122" height="49"/><text><tspan x="3801" y="449">regulation of</tspan><tspan x="3801" y="464">immune response</tspan></text></g>
<g id="neg_reg_isp"><rect x="3887" y="428" width="133" height="49"/><text><tspan x="3953" y="441.5">negative regulation</tspan><tspan x="3953" y="456.5">of immune system</tspan><tspan x="3953" y="471.5">process</tspan></text></g>
<g id="reg_resp_stress"><rect x="4045" y="428" width="89" height="49"/><text><tspan x="4089" y="441.5">regulation of</tspan><tspan x="4089" y="456.5">response to</tspan><tspan x="4089" y="471.5">stress</tspan></text></g>
<g id="pos_reg_resp_stimulus"><rect x="4209" y="428" width="128" height="49"/><text><tspan x="4273" y="441.5">positive regulation</tspan><tspan x="4273" y="456.5">of response</tspan><tspan x="4273" y="471.5">to stimulus</tspan></text></g>
<g id="defense_response"><rect x="4362" y="428" width="122" height="49"/><text x="4423" y="456.5">defense response</text></g>
<g id="reg_resp_osmotic"><rect x="3462" y="533" width="101" height="49"/><text><tspan x="3512" y="546.5">regulation of</tspan><tspan x="3512" y="561.5">response to</tspan><tspan x="3512" y="576.5">osmotic stress</tspan></text></g>
<g id="pos_reg_ir"><rect x="3638" y="533" width="140" height="49"/><text><tspan x="3708" y="554">positive regulation</tspan><tspan x="3708" y="569">of immune response</tspan></text></g>
<g id="neg_reg_ir"><rect x="3855" y="533" width="139" height="49"/><text><tspan x="3924" y="554">negative regulation</tspan><tspan x="3924" y="569">of immune response</tspan></text></g>
<g id="reg_dr"><rect x="4070" y="533" width="121" height="49"/><text><tspan x="4131" y="554">regulation of</tspan><tspan x="4131" y="569">defense response</tspan></text></g>
<g id="cr_endogenous"><rect x="4368" y="533" width="117" height="49"/><text><tspan x="4426" y="546.5">cellular response</tspan><tspan x="4426" y="561.5">to endogenous</tspan><tspan x="4426" y="576.5">stimulus</tspan></text></g>
<g id="activation_ir"><rect x="3539" y="645" width="122" height="49"/><text><tspan x="3600" y="666">activation of</tspan><tspan x="3600" y="681">immune response</tspan></text></g>
<g id="pos_reg_dr"><rect x="4101" y="645" width="139" height="49"/><text><tspan x="4170" y="666">positive regulation</tspan><tspan x="4170" y="681">of defense response</tspan></text></g>
<g id="neg_reg_dr"><rect x="4264" y="645" width="139" height="49"/><text><tspan x="4333" y="666">negative regulation</tspan><tspan x="4333" y="681">of defense response</tspan></text></g>
<g id="ir_activating_sp"><rect x="3320" y="765" width="192" height="49"/><text><tspan x="3416" y="786">immune response-activating</tspan><tspan x="3416" y="801">signaling pathway</tspan></text></g>
<g id="tmr_stk_sp"><rect x="3712" y="749" width="112" height="80"/><text><tspan x="3768" y="763.5">transmembrane</tspan><tspan x="3768" y="778.5">receptor protein</tspan><tspan x="3768" y="793.5">serine/threonine</tspan><tspan x="3768" y="808.5">kinase signaling</tspan><tspan x="3768" y="823.5">pathway</tspan></text></g>
<g id="tgfb_rsp"><rect class="lb" x="3802" y="877" width="126" height="64"/><text><tspan x="3865" y="891">transforming</tspan><tspan x="3865" y="906">growth factor</tspan><tspan x="3865" y="921">beta receptor</tspan><tspan x="3865" y="936">signaling pathway</tspan></text></g>
<g id="bmp_sp"><rect class="lb" x="4307" y="885" width="97" height="49"/><text><tspan x="4355" y="906">BMP signaling</tspan><tspan x="4355" y="921">pathway</tspan></text></g>
<g id="activation_iir"><rect x="3547" y="1012" width="105" height="49"/><text><tspan x="3600" y="1025.5">activation of</tspan><tspan x="3600" y="1040.5">innate immune</tspan><tspan x="3600" y="1055.5">response</tspan></text></g>
<g id="iir_activating_sp"><rect x="3348" y="1161" width="135" height="49"/><text><tspan x="3416" y="1174.5">innate immune</tspan><tspan x="3416" y="1189.5">response-activating</tspan><tspan x="3416" y="1204.5">signaling pathway</tspan></text></g>
<g id="bp_interspecies"><rect x="4526" y="102" width="135" height="79"/><text><tspan x="4593" y="115.5">biological process</tspan><tspan x="4593" y="130.5">involved in</tspan><tspan x="4593" y="145.5">interspecies</tspan><tspan x="4593" y="160.5">interaction</tspan><tspan x="4593" y="175.5">between organisms</tspan></text></g>
<g id="resp_external"><rect x="4936" y="230" width="120" height="49"/><text><tspan x="4996" y="251">response to</tspan><tspan x="4996" y="266">external stimulus</tspan></text></g>
<g id="resp_biotic"><rect x="5184" y="230" width="101" height="49"/><text><tspan x="5234" y="251">response to</tspan><tspan x="5234" y="266">biotic stimulus</tspan></text></g>
<g id="resp_ext_biotic"><rect x="5186" y="329" width="99" height="49"/><text><tspan x="5236" y="342.5">response to</tspan><tspan x="5236" y="357.5">external biotic</tspan><tspan x="5236" y="372.5">stimulus</tspan></text></g>
<g id="resp_endogenous"><rect x="4508" y="428" width="144" height="49"/><text><tspan x="4580" y="449">response to</tspan><tspan x="4580" y="464">endogenous stimulus</tspan></text></g>
<g id="neg_reg_resp_stimulus"><rect x="4727" y="428" width="134" height="49"/><text><tspan x="4794" y="441.5">negative regulation</tspan><tspan x="4794" y="456.5">of response</tspan><tspan x="4794" y="471.5">to stimulus</tspan></text></g>
<g id="reg_resp_external"><rect x="4936" y="428" width="120" height="49"/><text><tspan x="4996" y="441.5">regulation of</tspan><tspan x="4996" y="456.5">response to</tspan><tspan x="4996" y="471.5">external stimulus</tspan></text></g>
<g id="resp_other_org"><rect x="5259" y="428" width="105" height="49"/><text><tspan x="5312" y="449">response to</tspan><tspan x="5312" y="464">other organism</tspan></text></g>
<g id="reg_resp_biotic"><rect x="5427" y="428" width="101" height="49"/><text><tspan x="5478" y="441.5">regulation of</tspan><tspan x="5478" y="456.5">response to</tspan><tspan x="5478" y="471.5">biotic stimulus</tspan></text></g>
<g id="resp_growth_factor"><rect x="4560" y="533" width="91" height="49"/><text><tspan x="4605" y="554">response to</tspan><tspan x="4605" y="569">growth factor</tspan></text></g>
<g id="pos_reg_resp_external"><rect x="4727" y="525" width="129" height="64"/><text><tspan x="4792" y="539">positive regulation</tspan><tspan x="4792" y="554">of response</tspan><tspan x="4792" y="569">to external</tspan><tspan x="4792" y="584">stimulus</tspan></text></g>
<g id="neg_reg_resp_external"><rect x="4931" y="525" width="132" height="64"/><text><tspan x="4997" y="539">negative regulation</tspan><tspan x="4997" y="554">of response</tspan><tspan x="4997" y="569">to external</tspan><tspan x="4997" y="584">stimulus</tspan></text></g>
<g id="pos_reg_resp_biotic"><rect x="5088" y="533" width="128" height="49"/><text><tspan x="5152" y="546.5">positive regulation</tspan><tspan x="5152" y="561.5">of response</tspan><tspan x="5152" y="576.5">to biotic stimulus</tspan></text></g>
<g id="dr_other_org"><rect x="5240" y="533" width="123" height="49"/><text><tspan x="5302" y="554">defense response</tspan><tspan x="5302" y="569">to other organism</tspan></text></g>
<g id="resp_fungus"><rect x="5387" y="533" width="82" height="49"/><text><tspan x="5428" y="554">response to</tspan><tspan x="5428" y="569">fungus</tspan></text></g>
<g id="neg_reg_resp_biotic"><rect x="5645" y="533" width="133" height="49"/><text><tspan x="5711" y="546.5">negative regulation</tspan><tspan x="5711" y="561.5">of response</tspan><tspan x="5711" y="576.5">to biotic stimulus</tspan></text></g>
<g id="resp_tgfb"><rect x="4427" y="637" width="92" height="64"/><text><tspan x="4473" y="651">response to</tspan><tspan x="4473" y="666">transforming</tspan><tspan x="4473" y="681">growth factor</tspan><tspan x="4473" y="696">beta</tspan></text></g>
<g id="cr_growth_factor"><rect x="4543" y="645" width="118" height="49"/><text><tspan x="4602" y="658.5">cellular response</tspan><tspan x="4602" y="673.5">to growth factor</tspan><tspan x="4602" y="688.5">stimulus</tspan></text></g>
<g id="resp_bmp"><rect x="4685" y="645" width="83" height="49"/><text><tspan x="4726" y="666">response to</tspan><tspan x="4726" y="681">BMP</tspan></text></g>
<g id="innate_ir"><rect x="4987" y="645" width="105" height="49"/><text><tspan x="5039" y="666">innate immune</tspan><tspan x="5039" y="681">response</tspan></text></g>
<g id="dr_fungus"><rect x="5288" y="645" width="121" height="49"/><text><tspan x="5348" y="666">defense response</tspan><tspan x="5348" y="681">to fungus</tspan></text></g>
<g id="cr_tgfb"><rect x="4408" y="757" width="119" height="64"/><text><tspan x="4467" y="771">cellular response</tspan><tspan x="4467" y="786">to transforming</tspan><tspan x="4467" y="801">growth factor</tspan><tspan x="4467" y="816">beta stimulus</tspan></text></g>
<g id="cr_bmp"><rect x="4550" y="765" width="118" height="49"/><text><tspan x="4609" y="786">cellular response</tspan><tspan x="4609" y="801">to BMP stimulus</tspan></text></g>
<g id="reg_iir"><rect x="4939" y="765" width="105" height="49"/><text><tspan x="4991" y="778.5">regulation of</tspan><tspan x="4991" y="793.5">innate immune</tspan><tspan x="4991" y="808.5">response</tspan></text></g>
<g id="antifungal_iir"><rect x="5189" y="765" width="123" height="49"/><text><tspan x="5251" y="786">antifungal innate</tspan><tspan x="5251" y="801">immune response</tspan></text></g>
<g id="reg_dr_fungus"><rect x="5337" y="765" width="121" height="49"/><text><tspan x="5397" y="778.5">regulation of</tspan><tspan x="5397" y="793.5">defense response</tspan><tspan x="5397" y="808.5">to fungus</tspan></text></g>
<g id="pos_reg_iir"><rect x="4478" y="885" width="129" height="49"/><text><tspan x="4542" y="898.5">positive regulation</tspan><tspan x="4542" y="913.5">of innate immune</tspan><tspan x="4542" y="928.5">response</tspan></text></g>
<g id="neg_reg_iir"><rect x="4925" y="885" width="134" height="49"/><text><tspan x="4992" y="898.5">negative regulation</tspan><tspan x="4992" y="913.5">of innate immune</tspan><tspan x="4992" y="928.5">response</tspan></text></g>
<g id="smad_phos"><rect class="lb" x="5084" y="885" width="128" height="49"/><text><tspan x="5148" y="898.5">pathway-restricted</tspan><tspan x="5148" y="913.5">SMAD protein</tspan><tspan x="5148" y="928.5">phosphorylation</tspan></text></g>
<g id="reg_antifungal_iir"><rect x="5288" y="885" width="123" height="49"/><text><tspan x="5349" y="898.5">regulation of</tspan><tspan x="5349" y="913.5">antifungal innate</tspan><tspan x="5349" y="928.5">immune response</tspan></text></g>
<g id="neg_reg_antifungal_iir"><rect class="lb" x="5184" y="1004" width="133" height="65"/><text><tspan x="5251" y="1018">negative regulation</tspan><tspan x="5251" y="1033">of antifungal</tspan><tspan x="5251" y="1048">innate immune</tspan><tspan x="5251" y="1063">response</tspan></text></g>
<g id="metabolic_process"><rect x="6001" y="230" width="126" height="49"/><text x="6064" y="258.5">metabolic process</text></g>
<g id="cellular_mp"><rect x="5783" y="329" width="124" height="49"/><text><tspan x="5845" y="350">cellular metabolic</tspan><tspan x="5845" y="365">process</tspan></text></g>
<g id="catabolic_process"><rect x="5932" y="329" width="118" height="49"/><text x="5991" y="357.5">catabolic process</text></g>
<g id="org_subst_mp"><rect x="6074" y="329" width="126" height="49"/><text><tspan x="6137" y="350">organic substance</tspan><tspan x="6137" y="365">metabolic process</tspan></text></g>
<g id="nitrogen_mp"><rect x="6225" y="329" width="131" height="49"/><text><tspan x="6290" y="350">nitrogen compound</tspan><tspan x="6290" y="365">metabolic process</tspan></text></g>
<g id="primary_mp"><rect x="6380" y="329" width="127" height="49"/><text><tspan x="6443" y="350">primary metabolic</tspan><tspan x="6443" y="365">process</tspan></text></g>
<g id="phosphorus_mp"><rect x="5781" y="428" width="150" height="49"/><text><tspan x="5856" y="449">phosphorus metabolic</tspan><tspan x="5856" y="464">process</tspan></text></g>
<g id="org_subst_cp"><rect x="5966" y="428" width="123" height="49"/><text><tspan x="6028" y="449">organic substance</tspan><tspan x="6028" y="464">catabolic process</tspan></text></g>
<g id="organonitrogen_mp"><rect x="6114" y="428" width="122" height="49"/><text><tspan x="6175" y="441.5">organonitrogen</tspan><tspan x="6175" y="456.5">compound metabolic</tspan><tspan x="6175" y="471.5">process</tspan></text></g>
<g id="macromolecule_mp"><rect x="6282" y="428" width="125" height="49"/><text><tspan x="6345" y="449">macromolecule</tspan><tspan x="6345" y="464">metabolic process</tspan></text></g>
<g id="phosphate_mp"><rect x="5802" y="533" width="147" height="49"/><text><tspan x="5876" y="546.5">phosphate-containing</tspan><tspan x="5876" y="561.5">compound metabolic</tspan><tspan x="5876" y="576.5">process</tspan></text></g>
<g id="macromolecule_cp"><rect x="5974" y="533" width="117" height="49"/><text><tspan x="6033" y="554">macromolecule</tspan><tspan x="6033" y="569">catabolic process</tspan></text></g>
<g id="organonitrogen_cp"><rect x="6117" y="533" width="136" height="49"/><text><tspan x="6185" y="546.5">organonitrogen</tspan><tspan x="6185" y="561.5">compound catabolic</tspan><tspan x="6185" y="576.5">process</tspan></text></g>
<g id="protein_mp"><rect x="6278" y="533" width="122" height="49"/><text><tspan x="6339" y="554">protein metabolic</tspan><tspan x="6339" y="569">process</tspan></text></g>
<g id="macromolecule_mod"><rect x="6424" y="533" width="106" height="49"/><text><tspan x="6477" y="554">macromolecule</tspan><tspan x="6477" y="569">modification</tspan></text></g>
<g id="phosphorylation"><rect x="5812" y="645" width="110" height="49"/><text x="5867" y="673.5">phosphorylation</text></g>
<g id="protein_cp"><rect x="6127" y="645" width="116" height="49"/><text><tspan x="6185" y="666">protein catabolic</tspan><tspan x="6185" y="681">process</tspan></text></g>
<g id="proteolysis"><rect class="lb" x="6267" y="645" width="79" height="49"/><text x="6306" y="673.5">proteolysis</text></g>
<g id="protein_mod_process"><rect x="6371" y="645" width="136" height="49"/><text><tspan x="6439" y="666">protein modification</tspan><tspan x="6439" y="681">process</tspan></text></g>
<g id="protein_phos"><rect x="5776" y="765" width="160" height="49"/><text x="5856" y="793.5">protein phosphorylation</text></g>
<g id="moddep_macro_cp"><rect x="5961" y="765" width="161" height="49"/><text><tspan x="6041" y="778.5">modification-dependent</tspan><tspan x="6041" y="793.5">macromolecule</tspan><tspan x="6041" y="808.5">catabolic process</tspan></text></g>
<g id="proteolysis_pcp"><rect x="6147" y="757" width="114" height="64"/><text><tspan x="6204" y="771">proteolysis</tspan><tspan x="6204" y="786">involved in</tspan><tspan x="6204" y="801">protein catabolic</tspan><tspan x="6204" y="816">process</tspan></text></g>
<g id="pm_small_conj"><rect x="6344" y="757" width="137" height="64"/><text><tspan x="6413" y="771">protein modification</tspan><tspan x="6413" y="786">by small protein</tspan><tspan x="6413" y="801">conjugation</tspan><tspan x="6413" y="816">or removal</tspan></text></g>
<g id="moddep_protein_cp"><rect x="6019" y="885" width="161" height="49"/><text><tspan x="6100" y="898.5">modification-dependent</tspan><tspan x="6100" y="913.5">protein catabolic</tspan><tspan x="6100" y="928.5">process</tspan></text></g>
<g id="pm_small_removal"><rect x="6264" y="885" width="136" height="49"/><text><tspan x="6332" y="898.5">protein modification</tspan><tspan x="6332" y="913.5">by small protein</tspan><tspan x="6332" y="928.5">removal</tspan></text></g>
<g id="ub_dep_pcp"><rect class="lb" x="6031" y="1012" width="137" height="49"/><text><tspan x="6100" y="1025.5">ubiquitin-dependent</tspan><tspan x="6100" y="1040.5">protein catabolic</tspan><tspan x="6100" y="1055.5">process</tspan></text></g>
<g id="protein_deub"><rect class="cb" x="6250" y="1012" width="163" height="49"/><text x="6332" y="1040.5">protein deubiquitination</text></g>
<g id="histone_mod"><rect x="6450" y="1012" width="140" height="49"/><text x="6520" y="1040.5">histone modification</text></g>
<g id="k27_deub"><rect class="lb" x="6100" y="1161" width="126" height="49"/><text><tspan x="6163" y="1182">protein K27-linked</tspan><tspan x="6163" y="1197">deubiquitination</tspan></text></g>
<g id="mono_deub"><rect class="lb" x="6250" y="1161" width="163" height="49"/><text><tspan x="6332" y="1182">monoubiquitinated</tspan><tspan x="6332" y="1197">protein deubiquitination</tspan></text></g>
<g id="histone_deub"><rect x="6438" y="1161" width="164" height="49"/><text x="6520" y="1189.5">histone deubiquitination</text></g>
<g id="h2b_deub"><rect class="lb" x="6443" y="1289" width="155" height="49"/><text><tspan x="6520" y="1302.5">histone H2B</tspan><tspan x="6520" y="1317.5">conserved C-terminal</tspan><tspan x="6520" y="1332.5">lysine deubiquitination</tspan></text></g>
</g>
</g>
</svg>
